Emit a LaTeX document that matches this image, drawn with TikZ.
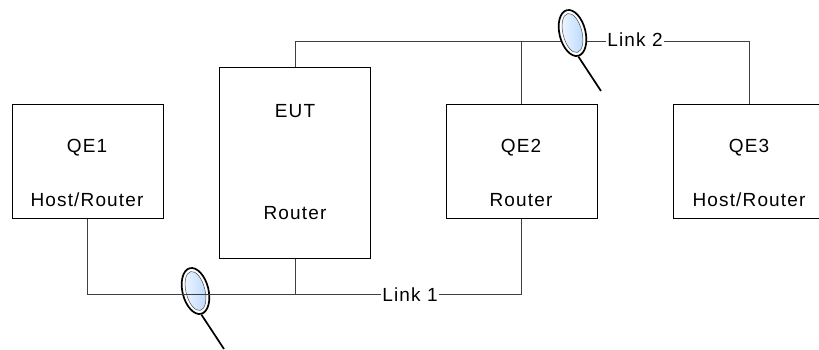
\documentclass[tikz,border=0pt]{standalone}
\usepackage{fontspec}
\setmainfont[LetterSpace=6]{Liberation Sans}
\usetikzlibrary{shapes.geometric,calc}
\definecolor{lensfill}{HTML}{BBD9FF}
\tikzset{
  x=1pt,y=-1pt,
  box/.style={draw=black,line width=1pt,fill=white,minimum width=151pt,inner sep=0pt},
  txt/.style={font=\fontsize{19}{21}\selectfont,inner sep=0pt,text=black},
  wire/.style={draw=black!75,line width=1pt},
  linklabel/.style={txt,fill=white,inner xsep=1pt,inner ysep=2pt},
  lensouter/.style={ellipse,draw=black,line width=1.7pt,fill=white,minimum width=26pt,minimum height=47pt,inner sep=0pt},
  lensinner/.style={ellipse,draw=black!70,line width=0.5pt,left color=lensfill!25!white,right color=lensfill,minimum width=19pt,minimum height=40pt,inner sep=0pt},
  lenswindow/.style={ellipse,draw=black!70,line width=0.5pt,fill=lensfill,fill opacity=0.0,minimum width=19pt,minimum height=40pt,inner sep=0pt},
  handle/.style={draw=black,line width=1.7pt},
}
\begin{document}
\begin{tikzpicture}
\useasboundingbox[clip] (0,0) rectangle (819,349);
% boxes
\node[box,minimum height=114pt] (qe1) at (87.5,161) {};
\node[box,minimum height=191pt] (eut) at (295,162.5) {};
\node[box,minimum height=114pt] (qe2) at (521.5,161) {};
\node[box,minimum height=114pt] (qe3) at (749,161) {};
% box texts
\node[txt] (qe1a) at (87,148) {QE1};
\node[txt] (qe1b) at (87,200) {Host/Router};
\node[txt] (euta) at (295,111) {EUT};
\node[txt] (eutb) at (295,213) {Router};
\node[txt] (qe2a) at (521,148) {QE2};
\node[txt] (qe2b) at (521,200) {Router};
\node[txt] (qe3a) at (749,148) {QE3};
\node[txt] (qe3b) at (749,200) {Host/Router};
% link junctions
\coordinate (t1) at (eut.north |- 0,41);
\coordinate (t2) at (qe2.north |- 0,41);
\coordinate (t3) at (qe3.north |- 0,41);
\coordinate (b1) at (qe1.south |- 0,294);
\coordinate (b2) at (eut.south |- 0,294);
\coordinate (b3) at (qe2.south |- 0,294);
% lower magnifier, wire seen through it
\node[lensouter,rotate=14] (m1) at (195.5,291) {};
\node[lensinner,rotate=14] (m1i) at (195.5,291) {};
\coordinate (m1h) at (224,349);
\draw[handle] (m1.south) -- (m1h);
\draw[wire] (qe1.south) -- (b1) -- (b3) -- (qe2.south);
\draw[wire] (eut.south) -- (b2);
\node[linklabel] (l1) at (410,295) {Link 1};
% upper wires, then magnifier over them
\draw[wire] (eut.north) -- (t1) -- (t3) -- (qe3.north);
\draw[wire] (qe2.north) -- (t2);
\node[linklabel] (l2) at (635,40) {Link 2};
\node[lensouter,rotate=14] (m2) at (572.5,33) {};
\node[lensinner,rotate=14] (m2i) at (572.5,33) {};
\coordinate (m2h) at (601,91);
\draw[handle] (m2.south) -- (m2h);
\end{tikzpicture}
\end{document}
